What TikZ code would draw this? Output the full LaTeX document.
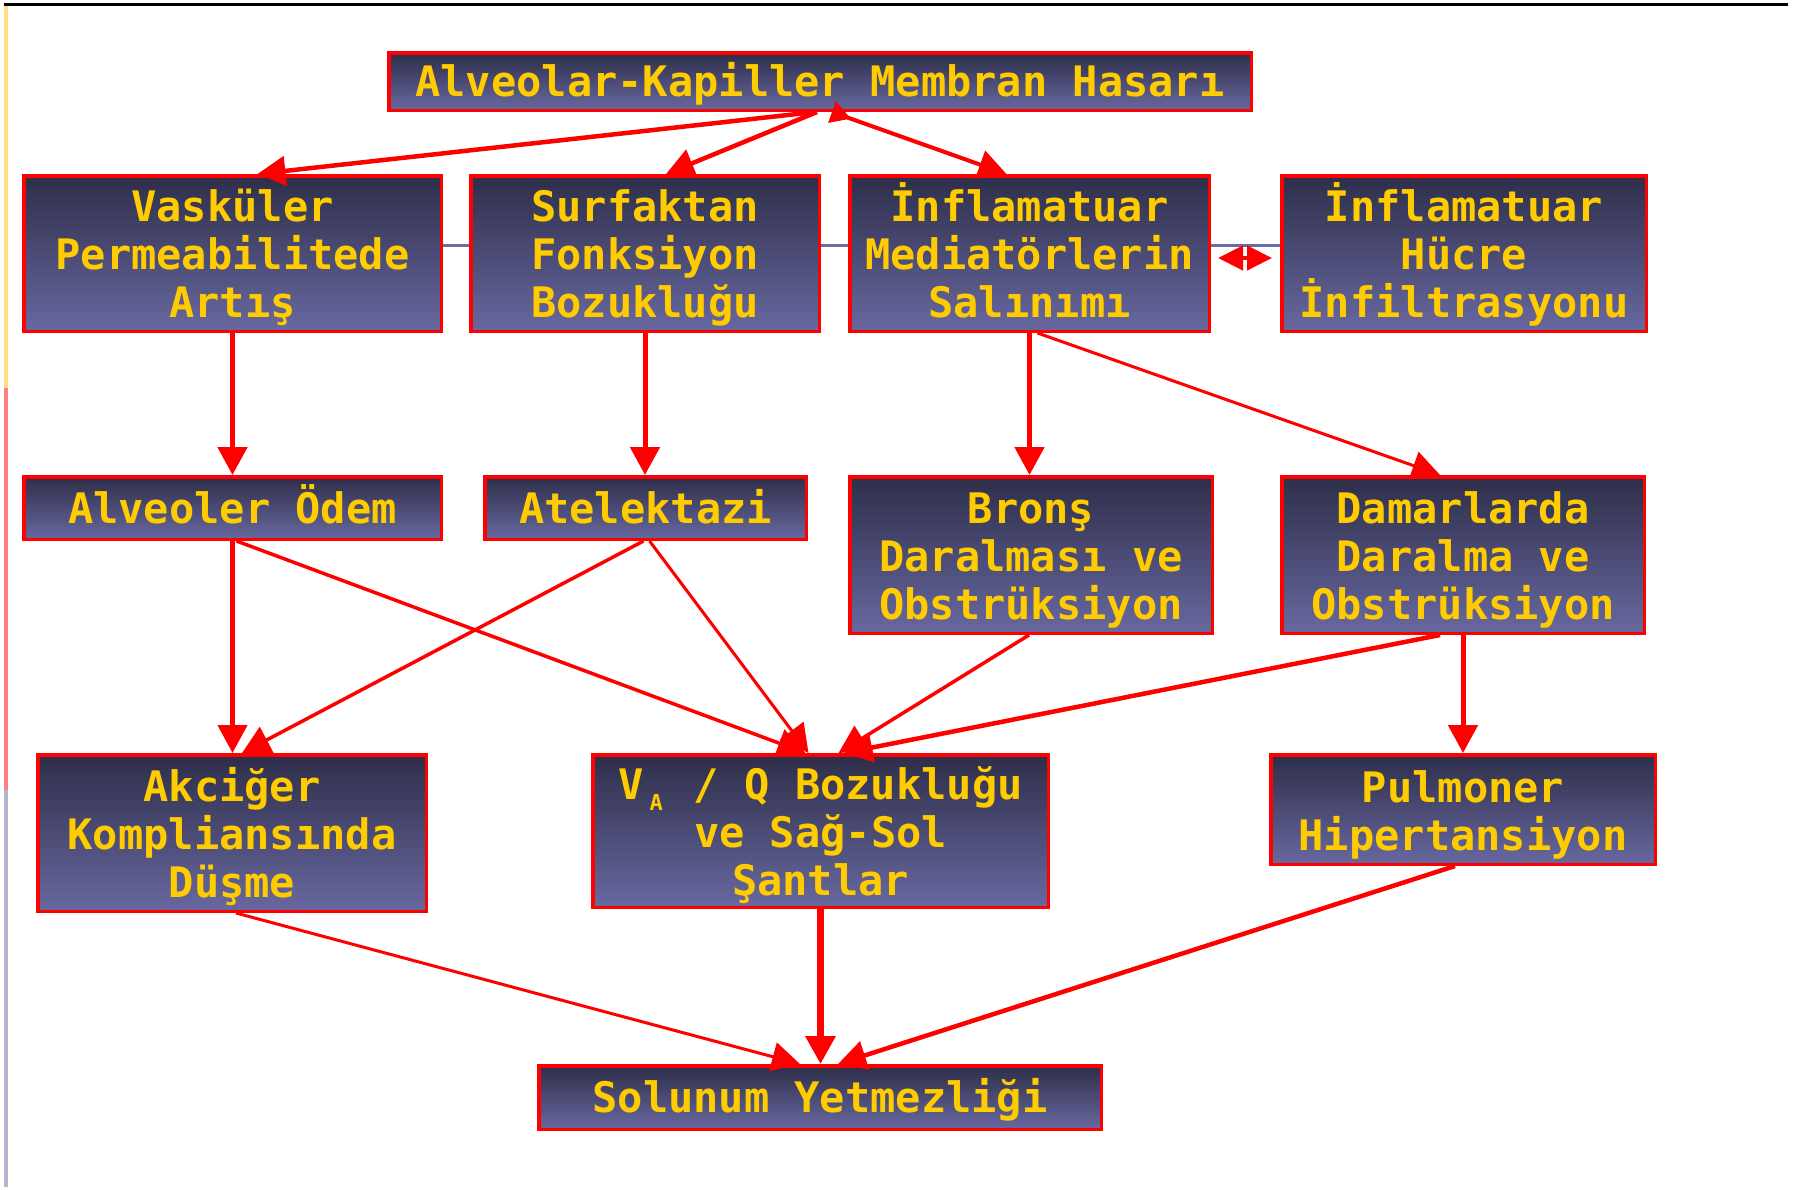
\documentclass[tikz,border=0pt]{standalone}
\usepackage{fontspec}
\newfontfamily\pixfont{DejaVu Sans Mono}
\usetikzlibrary{arrows.meta,calc}
\definecolor{boxred}{HTML}{FF0000}
\definecolor{boxtop}{HTML}{2E2E4A}
\definecolor{boxbot}{HTML}{6868A0}
\definecolor{txtyel}{HTML}{FFCC00}
\definecolor{linklav}{HTML}{6B6BA3}
\definecolor{baryel}{HTML}{FFE080}
\definecolor{barpink}{HTML}{FF8080}
\definecolor{barlav}{HTML}{B4B4CC}
\begin{document}
\begin{tikzpicture}[x=1pt,y=-1pt,
  box/.style={draw=boxred,line width=3.5pt,top color=boxtop,bottom color=boxbot,
    text=txtyel,align=center,inner sep=0pt,text depth=0pt,
    font=\pixfont\bfseries\fontsize{42}{48}\selectfont},
  one/.style={box,text height=30pt},
  two/.style={box,text height=81pt},
  three/.style={box,text height=128pt},
  conn/.style={draw=boxred,line width=#1,-{Triangle[width=29pt,length=28pt]}},
  conn/.default=4.5pt,
  link/.style={draw=linklav,line width=3pt}
]
\useasboundingbox (0,0) rectangle (1798,1189);
\fill[white] (0,0) rectangle (1798,1189);
% frame decorations
\draw[black,line width=2.5pt] (4,4.5) -- (1788,4.5);
\fill[baryel] (4,6) rectangle (8,388);
\fill[barpink] (4,388) rectangle (8,790);
\fill[barlav] (4,790) rectangle (8,1187);

% nodes
\node[one,minimum width=862.5pt,minimum height=57.5pt] (top) at (820,81.5) {Alveolar-Kapiller Membran Hasarı};
\node[three,minimum width=417.5pt,minimum height=155.5pt] (vask) at (232.5,253.5) {Vasküler\\Permeabilitede\\Artış};
\node[three,minimum width=348.5pt,minimum height=155.5pt] (surf) at (645,253.5) {Surfaktan\\Fonksiyon\\Bozukluğu};
\node[three,minimum width=359.5pt,minimum height=155.5pt] (infmed) at (1029.5,253.5) {İnflamatuar\\Mediatörlerin\\Salınımı};
\node[three,minimum width=364.5pt,minimum height=155.5pt] (infhuc) at (1464,253.5) {İnflamatuar\\Hücre\\İnfiltrasyonu};
\node[one,minimum width=417.5pt,minimum height=62.5pt] (odem) at (232.5,508) {Alveoler Ödem};
\node[one,minimum width=321.5pt,minimum height=62.5pt] (atel) at (645.5,508) {Atelektazi};
\node[three,minimum width=362.5pt,minimum height=156.5pt] (brons) at (1031,555) {Bronş\\Daralması ve\\Obstrüksiyon};
\node[three,minimum width=362.5pt,minimum height=156.5pt] (damar) at (1463,555) {Damarlarda\\Daralma ve\\Obstrüksiyon};
\node[three,minimum width=388.5pt,minimum height=156.5pt] (akc) at (232,833) {Akciğer\\Kompliansında\\Düşme};
\node[three,minimum width=455.5pt,minimum height=152.5pt] (vaq) at (820.5,831) {V\raisebox{-11pt}{\makebox[25pt]{\fontsize{22}{22}\selectfont A}} / Q Bozukluğu\\ve Sağ-Sol\\Şantlar};
\node[two,minimum width=384.5pt,minimum height=109.5pt] (pulm) at (1463,809.5) {Pulmoner\\Hipertansiyon};
\node[one,minimum width=562.5pt,minimum height=63.5pt] (sol) at (820,1097.5) {Solunum Yetmezliği};

% thin lavender link behind row 2
\draw[link] ($(vask.east)+(0,-8.5)$) -- ($(surf.west)+(0,-8.5)$);
\draw[link] ($(surf.east)+(0,-8.5)$) -- ($(infmed.west)+(0,-8.5)$);
\draw[link] ($(infmed.east)+(0,-8.5)$) -- ($(infhuc.west)+(0,-8.5)$);

% connectors
\draw[conn] ($(top.south)+(-5,0)$) -- ($(vask.north)+(25,0)$);
\draw[conn] ($(top.south)+(-3,0)$) -- ($(surf.north)+(21,0)$);
\draw[conn=4pt,{Triangle[reversed,width=22pt,length=20pt]}-{Triangle[width=29pt,length=28pt]}] ($(top.south)+(12,0)$) -- ($(infmed.north)+(-23,0)$);
\draw[draw=boxred,line width=4.5pt,{Triangle[width=24pt,length=25pt]}-{Triangle[width=24pt,length=25pt]}] ($(infmed.east)+(7,4.5)$) -- ($(infhuc.west)+(-8,4.5)$);

\draw[conn=5pt] (vask.south) -- (vask.south |- odem.north);
\draw[conn=5pt] (surf.south) -- (surf.south |- atel.north);
\draw[conn=5pt] (infmed.south) -- (infmed.south |- brons.north);
\draw[conn=3pt] ($(infmed.south)+(8,0)$) -- ($(damar.north)+(-23,0)$);

\draw[conn=4.5pt] (odem.south) -- (odem.south |- akc.north);
\draw[conn=3.5pt] ($(odem.south)+(4,0)$) -- ($(vaq.north)+(-15,0)$);
\draw[conn=3.5pt] ($(atel.south)+(-2,0)$) -- ($(akc.north)+(10,0)$);
\draw[conn=3pt] ($(atel.south)+(4,0)$) -- ($(vaq.north)+(-12,0)$);
\draw[conn=3.5pt] ($(brons.south)+(-2,0)$) -- ($(vaq.north)+(18,0)$);
\draw[conn=4.5pt] ($(damar.south)+(-23,0)$) -- ($(vaq.north)+(24,0)$);
\draw[conn=5pt] (damar.south) -- (damar.south |- pulm.north);

\draw[conn=3pt] ($(akc.south)+(4,0)$) -- ($(sol.north)+(-20,0)$);
\draw[conn=6.5pt] (vaq.south) -- (vaq.south |- sol.north);
\draw[conn=4.5pt] ($(pulm.south)+(-8,0)$) -- ($(sol.north)+(18,0)$);
\end{tikzpicture}
\end{document}
